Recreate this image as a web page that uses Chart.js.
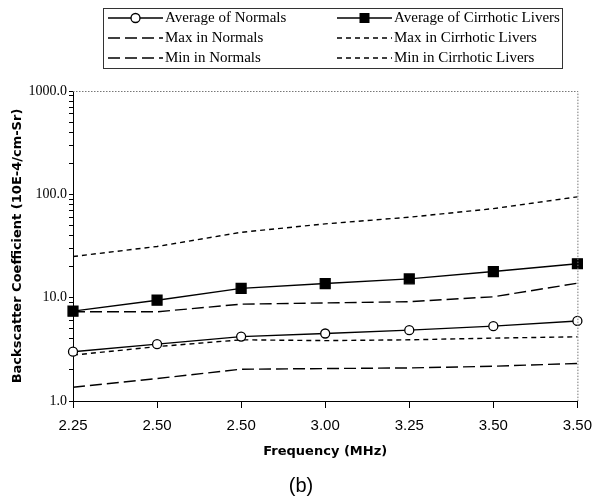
<!DOCTYPE html>
<html>
<head>
<meta charset="utf-8">
<script src="https://cdn.jsdelivr.net/npm/chart.js@4.4.0/dist/chart.umd.min.js"></script>
<style>
  html, body { margin: 0; padding: 0; background: #fff; }
  #wrap { width: 601px; height: 496px; position: relative; }
</style>
</head>
<body>
<div id="wrap"><canvas id="chart" width="601" height="496"></canvas></div>
<script>
const frequencies = ['2.25', '2.50', '2.50', '3.00', '3.25', '3.50', '3.50'];

const avgNormals = [3.0, 3.55, 4.2, 4.5, 4.85, 5.3, 5.95];
const maxNormals = [7.3, 7.3, 8.65, 8.9, 9.15, 10.2, 13.8];
const minNormals = [1.36, 1.65, 2.03, 2.06, 2.09, 2.17, 2.31];
const avgCirrhotic = [7.4, 9.45, 12.3, 13.7, 15.2, 17.9, 21.3];
const maxCirrhotic = [25.0, 31.3, 42.9, 51.8, 60.1, 72.7, 94.6];
const minCirrhotic = [2.78, 3.36, 3.91, 3.84, 3.91, 4.06, 4.18];

const LONG_DASH = [12, 5];
const SHORT_DASH = [5, 4];

function series(label, data, dash, marker) {
  return {
    label, data,
    borderColor: '#000', backgroundColor: marker === 'rect' ? '#000' : '#fff',
    borderWidth: 1.4, borderDash: dash,
    pointStyle: marker || 'circle',
    pointRadius: marker === 'rect' ? 7 : (marker ? 4.5 : 0),
    pointBorderColor: '#000', pointBorderWidth: 1.3,
    tension: 0
  };
}

const datasets = [
  series('Average of Normals', avgNormals, [], 'circle'),
  series('Max in Normals', maxNormals, LONG_DASH),
  series('Min in Normals', minNormals, LONG_DASH),
  series('Average of Cirrhotic Livers', avgCirrhotic, [], 'rect'),
  series('Max in Cirrhotic Livers', maxCirrhotic, SHORT_DASH),
  series('Min in Cirrhotic Livers', minCirrhotic, SHORT_DASH)
];

// boxed two-column legend plus frame and caption
const extras = {
  id: 'extras',
  afterDraw(chart) {
    const ctx = chart.ctx;
    const a = chart.chartArea;
    ctx.save();
    // dotted top/right frame
    ctx.strokeStyle = '#777';
    ctx.lineWidth = 1;
    ctx.setLineDash([1.5, 1.5]);
    ctx.beginPath();
    ctx.moveTo(a.left, a.top + 0.5);
    ctx.lineTo(a.right + 0.5, a.top + 0.5);
    ctx.lineTo(a.right + 0.5, a.bottom);
    ctx.stroke();
    ctx.setLineDash([]);

    // legend box
    ctx.strokeStyle = '#333';
    ctx.strokeRect(103.5, 8.5, 459, 60);
    const rows = [18, 38, 58];
    const cols = [{ x0: 108, x1: 163 }, { x0: 337, x1: 392 }];
    ctx.font = '15px "Liberation Serif", "Times New Roman", serif';
    ctx.textBaseline = 'middle';
    ctx.fillStyle = '#000';
    datasets.forEach((ds, i) => {
      const c = cols[Math.floor(i / 3)];
      const y = rows[i % 3];
      ctx.strokeStyle = '#000';
      ctx.lineWidth = 1.4;
      ctx.setLineDash(ds.borderDash);
      ctx.beginPath();
      ctx.moveTo(c.x0, y);
      ctx.lineTo(c.x1, y);
      ctx.stroke();
      ctx.setLineDash([]);
      const mx = (c.x0 + c.x1) / 2;
      if (ds.pointStyle === 'rect' && ds.pointRadius) {
        ctx.fillRect(mx - 5, y - 5, 10, 10);
      } else if (ds.pointRadius) {
        ctx.beginPath();
        ctx.fillStyle = '#fff';
        ctx.arc(mx, y, 4.5, 0, Math.PI * 2);
        ctx.fill();
        ctx.lineWidth = 1.3;
        ctx.stroke();
        ctx.fillStyle = '#000';
      }
      ctx.fillText(ds.label, c.x1 + 2, y);
    });

    // caption
    ctx.font = '20px "Liberation Sans", Arial, sans-serif';
    ctx.textAlign = 'center';
    ctx.fillText('(b)', 301, 486);
    ctx.restore();
  }
};

new Chart(document.getElementById('chart').getContext('2d'), {
  type: 'line',
  data: { labels: frequencies, datasets },
  plugins: [extras],
  options: {
    responsive: false,
    animation: false,
    layout: { padding: { top: 91, right: 15, bottom: 33, left: 0 } },
    plugins: { legend: { display: false }, tooltip: { enabled: false } },
    scales: {
      x: {
        type: 'category',
        offset: false,
        grid: { drawOnChartArea: false, drawTicks: true, tickLength: 7, color: '#000' },
        border: { color: '#000', width: 1 },
        ticks: {
          color: '#000', padding: 9, autoSkip: false, maxRotation: 0,
          font: { family: '"Liberation Sans", Arial, sans-serif', size: 15 }
        },
        title: {
          display: true, text: 'Frequency (MHz)', color: '#000',
          font: { family: '"DejaVu Sans", Verdana, sans-serif', size: 13, weight: 'bold' },
          padding: { top: 4, bottom: 4 }
        },
        afterFit(scale) { scale.height = 62; }
      },
      y: {
        type: 'logarithmic',
        min: 1, max: 1000,
        grid: { drawOnChartArea: false, drawTicks: true, tickLength: 4, color: '#000' },
        border: { color: '#000', width: 1 },
        afterBuildTicks(scale) {
          const t = [];
          for (let d = 1; d < 1000; d *= 10) {
            for (let k = 1; k < 10; k++) t.push({ value: d * k });
          }
          t.push({ value: 1000 });
          scale.ticks = t;
        },
        ticks: {
          color: '#000', padding: 2, autoSkip: false,
          font: { family: '"Liberation Serif", "Times New Roman", serif', size: 14 },
          callback(v) {
            const l = Math.log10(v);
            return Math.abs(l - Math.round(l)) < 1e-9 ? Number(v).toFixed(1) : '';
          }
        },
        title: {
          display: true, text: 'Backscatter Coefficient (10E-4/cm-Sr)', color: '#000',
          font: { family: '"DejaVu Sans", Verdana, sans-serif', size: 13, weight: 'bold' },
          padding: { top: 10, bottom: 4 }
        },
        afterFit(scale) { scale.width = 73; }
      }
    }
  }
});
</script>
</body>
</html>
